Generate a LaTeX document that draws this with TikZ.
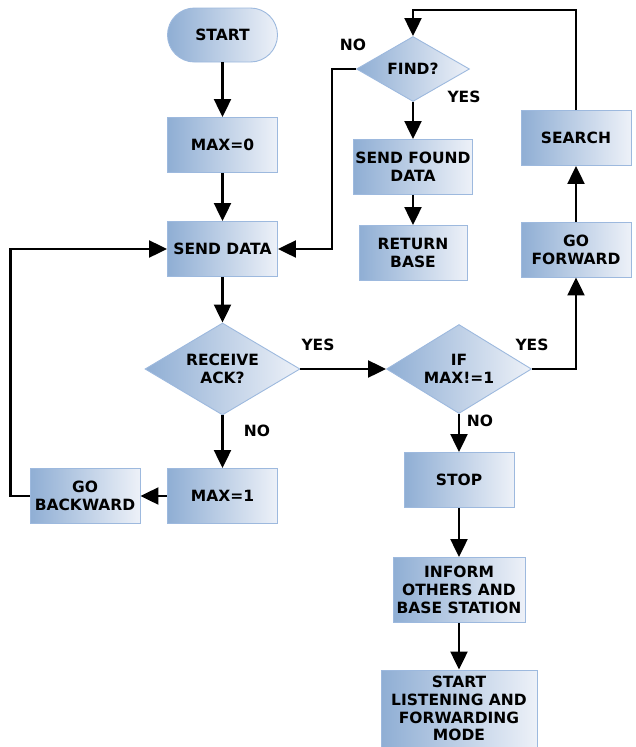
\documentclass[tikz,border=0pt]{standalone}
\usepackage{fontspec}
\setmainfont{DejaVu Sans}
\usetikzlibrary{shapes.geometric,arrows.meta}

\definecolor{fillL}{HTML}{8FAED4}
\definecolor{fillR}{HTML}{EDF1F8}
\definecolor{edgeC}{HTML}{9DB9DE}

\tikzset{
  base/.style={draw=edgeC, line width=0.9pt, left color=fillL, right color=fillR,
    align=center, inner sep=0pt, font=\fontsize{15.5}{17.8}\selectfont\bfseries},
  box/.style={base, rectangle, minimum width=#1, minimum height=55pt},
  box/.default=110pt,
  term/.style={base, rectangle, rounded corners=27pt, minimum width=110pt, minimum height=54pt},
  decide/.style={base, diamond, aspect=1.6},
  lbl/.style={font=\fontsize{15.5}{17.8}\selectfont\bfseries, inner sep=0pt},
  arr/.style={line width=2.2pt, -{Triangle[length=18pt,width=17pt]}}
}

\begin{document}
\begin{tikzpicture}[x=1pt,y=-1pt]
\useasboundingbox (0,0) rectangle (636,747);

% left column
\node[term] (start) at (222.5,35) {START};
\node[box] (max0) at (222.5,145) {MAX=0};
\node[box] (send) at (222.5,249) {SEND DATA};
\node[decide, minimum width=155pt, minimum height=92pt] (recv) at (222.5,369) {RECEIVE\\ACK?};
\node[box] (max1) at (222.5,496) {MAX=1};
\node[box] (goback) at (85,496) {GO\\BACKWARD};

% middle column
\node[decide, minimum width=113pt, minimum height=65pt] (find) at (413,69) {FIND?};
\node[box=119pt] (found) at (413,167) {SEND FOUND\\DATA};
\node[box=108pt] (retbase) at (413,253) {RETURN\\BASE};
\node[decide, minimum width=145pt, minimum height=89pt] (ifmax) at (459,369) {IF\\MAX!=1};
\node[box] (stop) at (459,480) {STOP};
\node[box=132pt, minimum height=65pt] (inform) at (459,590) {INFORM\\OTHERS AND\\BASE STATION};
\node[box=156pt, minimum height=77pt] (listen) at (459,708.5) {START\\LISTENING AND\\FORWARDING\\MODE};

% right column
\node[box] (search) at (576,138) {SEARCH};
\node[box] (gofwd) at (576,249.5) {GO\\FORWARD};

\coordinate (top) at (0,10);

% connectors
\draw[arr] (start) -- (max0);
\draw[arr] (max0) -- (send);
\draw[arr] (send) -- (recv);
\draw[arr] (recv) -- (max1);
\draw[arr] (max1) -- (goback);
\draw[arr] (goback.west) -- ++(-19,0) |- (send.west);
\draw[arr] (recv.east) -- (ifmax.west);
\draw[arr] (ifmax.east) -| (gofwd.south);
\draw[arr] (gofwd) -- (search);
\draw[arr] (search.north) -- (search.north |- top) -| (find.north);
\draw[arr] (find.west) -- ++(-24,0) |- (send.east);
\draw[arr] (find) -- (found);
\draw[arr] (found) -- (retbase);
\draw[arr] (ifmax) -- (stop);
\draw[arr] (stop) -- (inform);
\draw[arr] (inform) -- (listen);

% branch labels
\node[lbl] (l1) at (318,345) {YES};
\node[lbl] (l2) at (257,431) {NO};
\node[lbl] (l3) at (532,345) {YES};
\node[lbl] (l4) at (480,421) {NO};
\node[lbl] (l5) at (353,45) {NO};
\node[lbl] (l6) at (464,97) {YES};
\end{tikzpicture}
\end{document}
